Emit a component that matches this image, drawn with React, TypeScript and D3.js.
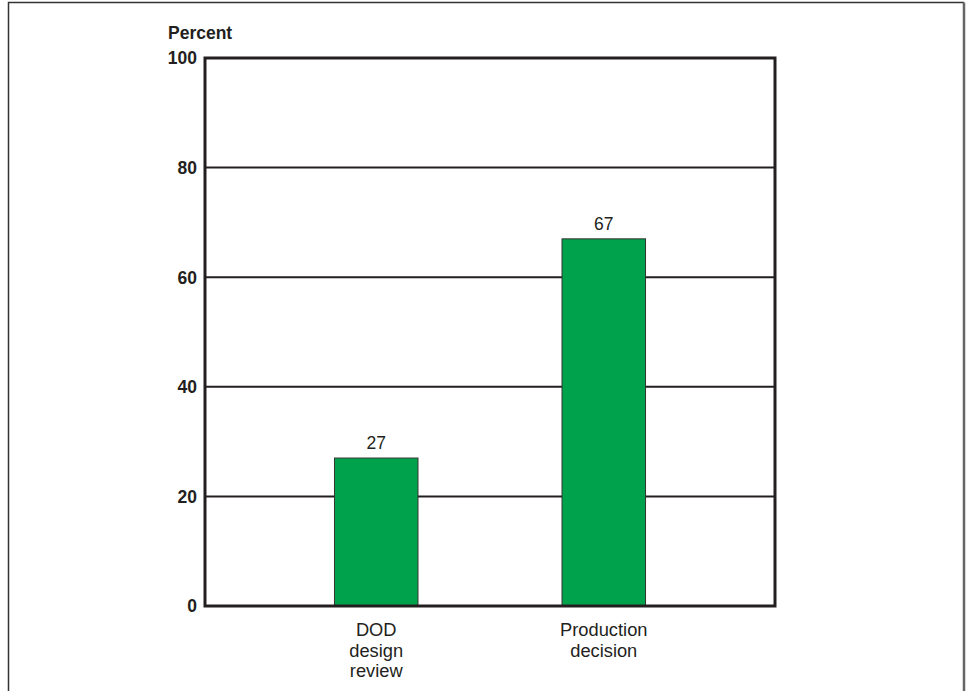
import React from "react";
import * as d3 from "d3";

const categories: string[][] = [["DOD", "design", "review"], ["Production", "decision"]];
const values: number[] = [27, 67];
const yTicks: number[] = [0, 20, 40, 60, 80, 100];
const yAxisTitle = "Percent";

const W = 967;
const H = 691;
const plot = { left: 205, right: 775, top: 58, bottom: 606 };
const ink = "#231f20";
const green = "#00a34b";
const font = "'Liberation Sans', Arial, Helvetica, sans-serif";

export default function App() {
  const keys = categories.map((c) => c.join(" "));
  const x = d3
    .scaleBand<string>()
    .domain(keys)
    .range([plot.left, plot.right])
    .paddingInner(0.633)
    .paddingOuter(0.569);
  const y = d3.scaleLinear().domain([0, 100]).range([plot.bottom, plot.top]);

  return (
    <svg
      width={W}
      height={H}
      viewBox={`0 0 ${W} ${H}`}
      style={{ position: "absolute", left: 0, top: 0, background: "#fff" }}
      fontFamily={font}
    >
      {/* outer frame, open at the bottom */}
      <path d={`M8.5,${H} V2.5 H964`} fill="none" stroke="#333" strokeWidth={1.5} />
      <path d={`M964,2.5 V${H}`} fill="none" stroke="#666" strokeWidth={2.5} />

      {/* horizontal gridlines */}
      {yTicks
        .filter((t) => t > 0 && t < 100)
        .map((t) => (
          <line key={t} x1={plot.left} x2={plot.right} y1={y(t)} y2={y(t)} stroke={ink} strokeWidth={2} />
        ))}

      {/* bars */}
      {values.map((v, i) => (
        <rect
          key={keys[i]}
          x={x(keys[i])}
          y={y(v)}
          width={x.bandwidth()}
          height={y(0) - y(v)}
          fill={green}
          stroke="#333"
          strokeWidth={1}
        />
      ))}

      {/* plot frame */}
      <rect
        x={plot.left}
        y={plot.top}
        width={plot.right - plot.left}
        height={plot.bottom - plot.top}
        fill="none"
        stroke={ink}
        strokeWidth={3}
      />

      {/* value labels */}
      {values.map((v, i) => (
        <text
          key={"v" + i}
          x={(x(keys[i]) as number) + x.bandwidth() / 2}
          y={y(v) - 9}
          textAnchor="middle"
          fontSize={17.5}
          fill={ink}
        >
          {v}
        </text>
      ))}

      {/* y tick labels */}
      {yTicks.map((t) => (
        <text
          key={"t" + t}
          x={197}
          y={y(t) + 6.3}
          textAnchor="end"
          fontSize={17.5}
          fontWeight="bold"
          fill={ink}
        >
          {t}
        </text>
      ))}

      {/* y axis title */}
      <text x={168} y={39} fontSize={17.5} fontWeight="bold" fill={ink}>
        {yAxisTitle}
      </text>

      {/* category labels */}
      {categories.map((lines, i) => (
        <text
          key={"c" + i}
          x={(x(keys[i]) as number) + x.bandwidth() / 2}
          y={636}
          textAnchor="middle"
          fontSize={18.3}
          fill={ink}
        >
          {lines.map((ln, j) => (
            <tspan key={j} x={(x(keys[i]) as number) + x.bandwidth() / 2} dy={j === 0 ? 0 : 20.5}>
              {ln}
            </tspan>
          ))}
        </text>
      ))}
    </svg>
  );
}
